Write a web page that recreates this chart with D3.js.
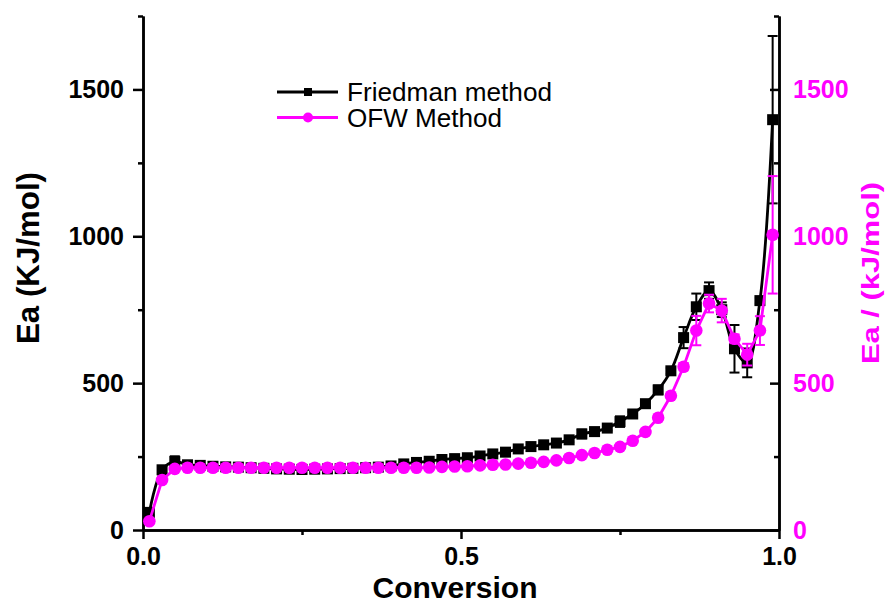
<!DOCTYPE html>
<html>
<head>
<meta charset="utf-8">
<script src="https://cdn.jsdelivr.net/npm/d3@7"></script>
<style>
  body { margin: 0; background: #fff; }
  svg { display: block; font-family: "Liberation Sans", Arial, sans-serif; }
</style>
</head>
<body>
<svg id="chart" width="889" height="603"></svg>
<script>
// conversion (x) and activation energies
const conversion = [0.01, 0.03, 0.05, 0.07, 0.09, 0.11, 0.13, 0.15, 0.17, 0.19,
                    0.21, 0.23, 0.25, 0.27, 0.29, 0.31, 0.33, 0.35, 0.37, 0.39,
                    0.41, 0.43, 0.45, 0.47, 0.49, 0.51, 0.53, 0.55, 0.57, 0.59,
                    0.61, 0.63, 0.65, 0.67, 0.69, 0.71, 0.73, 0.75, 0.77, 0.79,
                    0.81, 0.83, 0.85, 0.87, 0.89, 0.91, 0.93, 0.95, 0.97, 0.99];

const friedman = [60, 205, 233, 222, 220, 217, 215, 214, 212, 210,
                  208, 207, 206, 207, 208, 209, 210, 212, 214, 218,
                  225, 230, 234, 240, 243, 246, 252, 259, 265, 276,
                  284, 290, 296, 307, 327, 335, 347, 369, 395, 430,
                  477, 542, 655, 760, 815, 750, 617, 569, 781, 1397];

const friedmanErr = [10, 12, 18, 8, 6, 5, 5, 5, 5, 5,
                     5, 5, 5, 5, 5, 5, 5, 5, 5, 5,
                     5, 5, 5, 5, 5, 5, 5, 5, 5, 5,
                     6, 6, 6, 8, 15, 8, 8, 18, 8, 12,
                     15, 10, 36, 45, 28, 25, 81, 49, 10, 285];

const ofw = [30, 170, 208, 212, 212, 212, 212, 212, 212, 212,
             212, 212, 212, 212, 212, 212, 212, 212, 212, 212,
             212, 212, 213, 215, 216, 217, 220, 222, 223, 226,
             229, 232, 237, 245, 255, 262, 273, 283, 304, 334,
             382, 457, 556, 679, 771, 747, 651, 597, 679, 1005];

const ofwErr = [5, 8, 5, 4, 4, 4, 4, 4, 4, 4,
                4, 4, 4, 4, 4, 4, 4, 4, 4, 4,
                4, 4, 4, 4, 4, 4, 4, 4, 4, 4,
                4, 4, 4, 4, 5, 5, 5, 6, 6, 8,
                8, 8, 12, 50, 30, 40, 15, 37, 49, 200];

const xMajorTicks = [0, 0.5, 1.0];
const xMinorTicks = [0.25, 0.75];
const yMajorTicks = [0, 500, 1000, 1500];
const yMinorTicks = [250, 750, 1250, 1750];

const seriesNames = ["Friedman method", "OFW Method"];
const legendTextWidth = [205, 155];

const MAGENTA = "#ff00ff";
const plot = { left: 143, right: 779, top: 16, bottom: 530 };

const svg = d3.select("#chart");

const x = d3.scaleLinear([0, 1], [plot.left, plot.right]);
const y = d3.scaleLinear([0, 1750], [plot.bottom, plot.top]);

// ---------- axes ----------
function styleAxis(g, color) {
    g.select(".domain").attr("stroke", "#000").attr("stroke-width", 2.5);
    g.selectAll(".tick line").attr("stroke", "#000").attr("stroke-width", 2.5);
    g.selectAll(".tick text")
        .attr("fill", color)
        .style("font-size", "25px")
        .style("font-weight", "bold");
}

// left
svg.append("g")
    .attr("transform", `translate(${plot.left},0)`)
    .call(d3.axisLeft(y).tickValues(yMinorTicks).tickSize(5).tickSizeOuter(0).tickFormat(""))
    .call(g => styleAxis(g, "#000"));
svg.append("g")
    .attr("transform", `translate(${plot.left},0)`)
    .call(d3.axisLeft(y).tickValues(yMajorTicks).tickSize(10).tickSizeOuter(0).tickPadding(9)
        .tickFormat(d3.format("d")))
    .call(g => styleAxis(g, "#000"));

// right (ticks pointing inwards, magenta labels)
svg.append("g")
    .attr("transform", `translate(${plot.right},0)`)
    .call(d3.axisRight(y).tickValues(yMinorTicks).tickSize(-5).tickSizeOuter(0).tickFormat(""))
    .call(g => styleAxis(g, MAGENTA));
svg.append("g")
    .attr("transform", `translate(${plot.right},0)`)
    .call(d3.axisRight(y).tickValues(yMajorTicks).tickSize(-9).tickSizeOuter(0).tickPadding(14)
        .tickFormat(d3.format("d")))
    .call(g => styleAxis(g, MAGENTA));

// bottom
svg.append("g")
    .attr("transform", `translate(0,${plot.bottom})`)
    .call(d3.axisBottom(x).tickValues(xMinorTicks).tickSize(5).tickSizeOuter(0).tickFormat(""))
    .call(g => styleAxis(g, "#000"));
svg.append("g")
    .attr("transform", `translate(0,${plot.bottom})`)
    .call(d3.axisBottom(x).tickValues(xMajorTicks).tickSize(9).tickSizeOuter(0).tickPadding(8)
        .tickFormat(d3.format(".1f")))
    .call(g => styleAxis(g, "#000"));

// titles
svg.append("text")
    .attr("x", 455).attr("y", 598)
    .attr("text-anchor", "middle")
    .style("font-size", "30px").style("font-weight", "bold")
    .text("Conversion");

svg.append("text")
    .attr("transform", "translate(39,258) rotate(-90)")
    .attr("text-anchor", "middle")
    .attr("textLength", 172)
    .attr("lengthAdjust", "spacingAndGlyphs")
    .style("font-size", "32px").style("font-weight", "bold")
    .text("Ea (KJ/mol)");

svg.append("text")
    .attr("transform", "translate(879,273) rotate(-90)")
    .attr("text-anchor", "middle")
    .attr("textLength", 182)
    .attr("lengthAdjust", "spacingAndGlyphs")
    .attr("fill", MAGENTA)
    .style("font-size", "23px").style("font-weight", "bold")
    .text("Ea / (kJ/mol)");

// ---------- series ----------
const fData = conversion.map((c, i) => ({ c: c, v: friedman[i], e: friedmanErr[i] }));
const oData = conversion.map((c, i) => ({ c: c, v: ofw[i], e: ofwErr[i] }));

function drawErrors(data, color) {
    const g = svg.append("g").attr("stroke", color).attr("stroke-width", 2);
    data.forEach(d => {
        const cx = x(d.c), y0 = y(d.v - d.e), y1 = y(d.v + d.e);
        g.append("line").attr("x1", cx).attr("x2", cx).attr("y1", y0).attr("y2", y1);
        g.append("line").attr("x1", cx - 5).attr("x2", cx + 5).attr("y1", y0).attr("y2", y0);
        g.append("line").attr("x1", cx - 5).attr("x2", cx + 5).attr("y1", y1).attr("y2", y1);
    });
}

// Friedman: black squares on a smoothed line
drawErrors(fData, "#000");
svg.append("path")
    .datum(fData)
    .attr("fill", "none")
    .attr("stroke", "#000")
    .attr("stroke-width", 2.8)
    .attr("d", d3.line().x(d => x(d.c)).y(d => y(d.v)).curve(d3.curveCatmullRom.alpha(0.5)));
svg.selectAll(".sq")
    .data(fData)
    .enter()
    .append("rect")
    .attr("class", "sq")
    .attr("x", d => x(d.c) - 5.5)
    .attr("y", d => y(d.v) - 5.5)
    .attr("width", 11)
    .attr("height", 11)
    .attr("fill", "#000");

// OFW: magenta circles
drawErrors(oData, MAGENTA);
svg.append("path")
    .datum(oData)
    .attr("fill", "none")
    .attr("stroke", MAGENTA)
    .attr("stroke-width", 2.8)
    .attr("d", d3.line().x(d => x(d.c)).y(d => y(d.v)));
svg.selectAll(".dot")
    .data(oData)
    .enter()
    .append("circle")
    .attr("class", "dot")
    .attr("cx", d => x(d.c))
    .attr("cy", d => y(d.v))
    .attr("r", 6.3)
    .attr("fill", MAGENTA);

// ---------- legend ----------
const legend = svg.append("g").attr("transform", "translate(277,92)");
seriesNames.forEach((name, i) => {
    const row = legend.append("g").attr("transform", `translate(0,${i * 25.5})`);
    const color = i === 0 ? "#000" : MAGENTA;
    row.append("line").attr("x1", 0).attr("x2", 61).attr("y1", 0).attr("y2", 0)
        .attr("stroke", color).attr("stroke-width", 2.8);
    if (i === 0) {
        row.append("rect").attr("x", 27).attr("y", -4).attr("width", 8).attr("height", 8).attr("fill", color);
    } else {
        row.append("circle").attr("cx", 31).attr("cy", 0).attr("r", 5).attr("fill", color);
    }
    row.append("text")
        .attr("x", 70).attr("y", 9)
        .attr("textLength", legendTextWidth[i])
        .attr("lengthAdjust", "spacingAndGlyphs")
        .style("font-size", "25px")
        .text(name);
});
</script>
</body>
</html>
